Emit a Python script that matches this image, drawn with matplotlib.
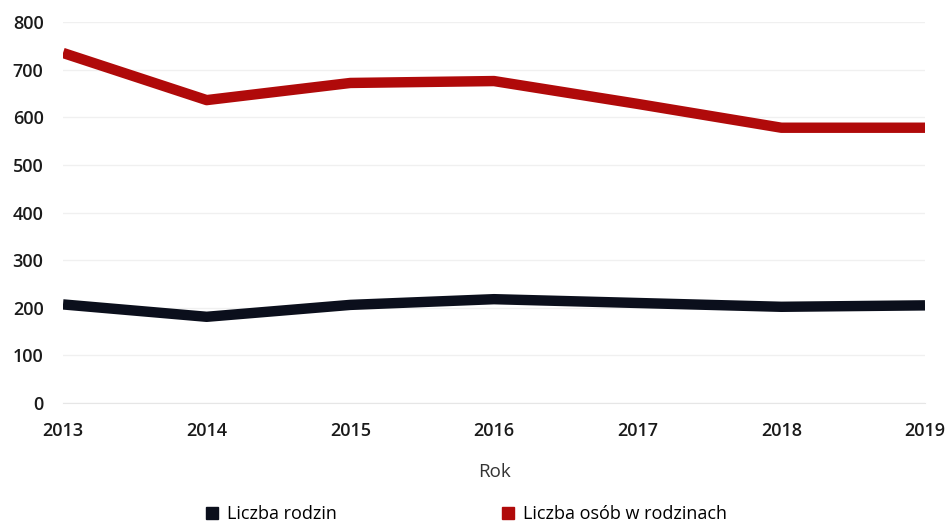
import matplotlib.pyplot as plt
from matplotlib.lines import Line2D

plt.rcParams['font.family'] = ['Open Sans', 'DejaVu Sans']

years = [2013, 2014, 2015, 2016, 2017, 2018, 2019]
liczba_rodzin = [207, 181, 206, 218, 210, 202, 205]
liczba_osob = [735, 636, 672, 676, 628, 578, 578]

col_black = '#0b0f1c'
col_red = '#b00a0a'

fig = plt.figure(figsize=(9.49, 5.26), dpi=100)
ax = fig.add_axes([63 / 949, 1 - 403 / 526, (925 - 63) / 949, (403 - 22) / 526])

ax.plot(years, liczba_rodzin, color=col_black, linewidth=7.5, solid_capstyle='butt')
ax.plot(years, liczba_osob, color=col_red, linewidth=7.5, solid_capstyle='butt')

ax.set_xlim(2013, 2019)
ax.set_ylim(0, 800)
ax.set_yticks(range(0, 801, 100))
ax.set_xticks(years)
ax.grid(axis='y', color='#f0f0f0', linewidth=1)
ax.set_axisbelow(True)
for s in ['top', 'right', 'left']:
    ax.spines[s].set_visible(False)
ax.spines['bottom'].set_color('#e6e6e6')
ax.tick_params(axis='both', length=0, labelsize=13, colors='#1a1a1a')
for lbl in ax.get_xticklabels() + ax.get_yticklabels():
    lbl.set_fontweight('semibold')
ax.tick_params(axis='y', pad=14)
ax.tick_params(axis='x', pad=14)
ax.set_xlabel('Rok', fontsize=13.5, color='#333333', labelpad=16)

handles = [Line2D([], [], marker='s', linestyle='none', color=col_black, markersize=9),
           Line2D([], [], marker='s', linestyle='none', color=col_red, markersize=9)]
fig.legend(handles, ['Liczba rodzin', 'Liczba osób w rodzinach'],
           loc='lower center', bbox_to_anchor=(0.49, -0.025), ncol=2, frameon=False,
           fontsize=13, columnspacing=9, handletextpad=0.3, handlelength=1)

fig.savefig('out.png', dpi=100)
